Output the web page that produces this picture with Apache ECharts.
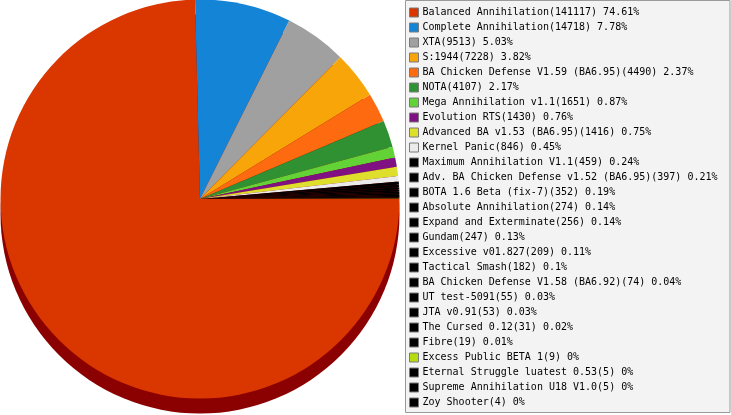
<!DOCTYPE html>
<html>
<head>
<meta charset="utf-8">
<script src="https://cdn.jsdelivr.net/npm/echarts@6/dist/echarts.min.js"></script>
<style>
html,body{margin:0;padding:0;background:#fff;}
#chart{width:731px;height:415px;}
</style>
</head>
<body>
<div id="chart"></div>
<script>
const names = [
  "Balanced Annihilation",
  "Complete Annihilation",
  "XTA",
  "S:1944",
  "BA Chicken Defense V1.59 (BA6.95)",
  "NOTA",
  "Mega Annihilation v1.1",
  "Evolution RTS",
  "Advanced BA v1.53 (BA6.95)",
  "Kernel Panic",
  "Maximum Annihilation V1.1",
  "Adv. BA Chicken Defense v1.52 (BA6.95)",
  "BOTA 1.6 Beta (fix-7)",
  "Absolute Annihilation",
  "Expand and Exterminate",
  "Gundam",
  "Excessive v01.827",
  "Tactical Smash",
  "BA Chicken Defense V1.58 (BA6.92)",
  "UT test-5091",
  "JTA v0.91",
  "The Cursed 0.12",
  "Fibre",
  "Excess Public BETA 1",
  "Eternal Struggle luatest 0.53",
  "Supreme Annihilation U18 V1.0",
  "Zoy Shooter"
];
const values = [141117,14718,9513,7228,4490,4107,1651,1430,1416,846,459,397,352,274,256,247,209,182,74,55,53,31,19,9,5,5,4];
const percents = ["74.61","7.78","5.03","3.82","2.37","2.17","0.87","0.76","0.75","0.45","0.24","0.21","0.19","0.14","0.14","0.13","0.11","0.1","0.04","0.03","0.03","0.02","0.01","0","0","0","0"];
const colors = ["#da3600","#1484d6","#a0a0a0","#f8a50a","#fd6a10","#2f9132","#63d236","#7f1182","#dede2c","#ebebeb",
  "#000000","#000000","#000000","#000000","#000000","#000000","#000000","#000000","#000000","#000000","#000000","#000000","#000000",
  "#b5dc0f","#000000","#000000","#000000"];
const shadowColor = "#8b0000";

const chart = echarts.init(document.getElementById('chart'), null, {renderer:'canvas'});
const data = names.map((n,i)=>({name:n, value:values[i], itemStyle:{color:colors[i]}}));
const labelMap = {};
names.forEach((n,i)=>{ labelMap[n] = n + "(" + values[i] + ") " + percents[i] + "%"; });

chart.setOption({
  animation:false,
  graphic:[{
    type:'rect', z:-1,
    shape:{x:405.5, y:0.5, width:324.5, height:412},
    style:{fill:'#f3f3f3', stroke:'#9a9a9a', lineWidth:1}
  }],
  legend:{
    orient:'vertical',
    left:409, top:5,
    padding:0,
    itemWidth:9, itemHeight:9, itemGap:0,
    selectedMode:false,
    icon:'rect',
    itemStyle:{borderColor:'#7a7a7a', borderWidth:1},
    data:names,
    formatter:(n)=>labelMap[n],
    textStyle:{fontFamily:'DejaVu Sans Mono', fontSize:10, color:'#000', lineHeight:15, padding:[0,0,0,-1]}
  },
  series:[
    {
      type:'pie', silent:true, z:1,
      center:[200,214], radius:[0,199.5],
      label:{show:false}, labelLine:{show:false},
      data:[{name:'shadow', value:1, itemStyle:{color:shadowColor}}]
    },
    {
      type:'pie', silent:true, z:2,
      center:[200,199], radius:[0,199.5],
      startAngle:0, clockwise:true,
      minAngle:0,
      avoidLabelOverlap:false,
      label:{show:false}, labelLine:{show:false},
      itemStyle:{borderWidth:0},
      data:data
    }
  ]
});
</script>
</body>
</html>
